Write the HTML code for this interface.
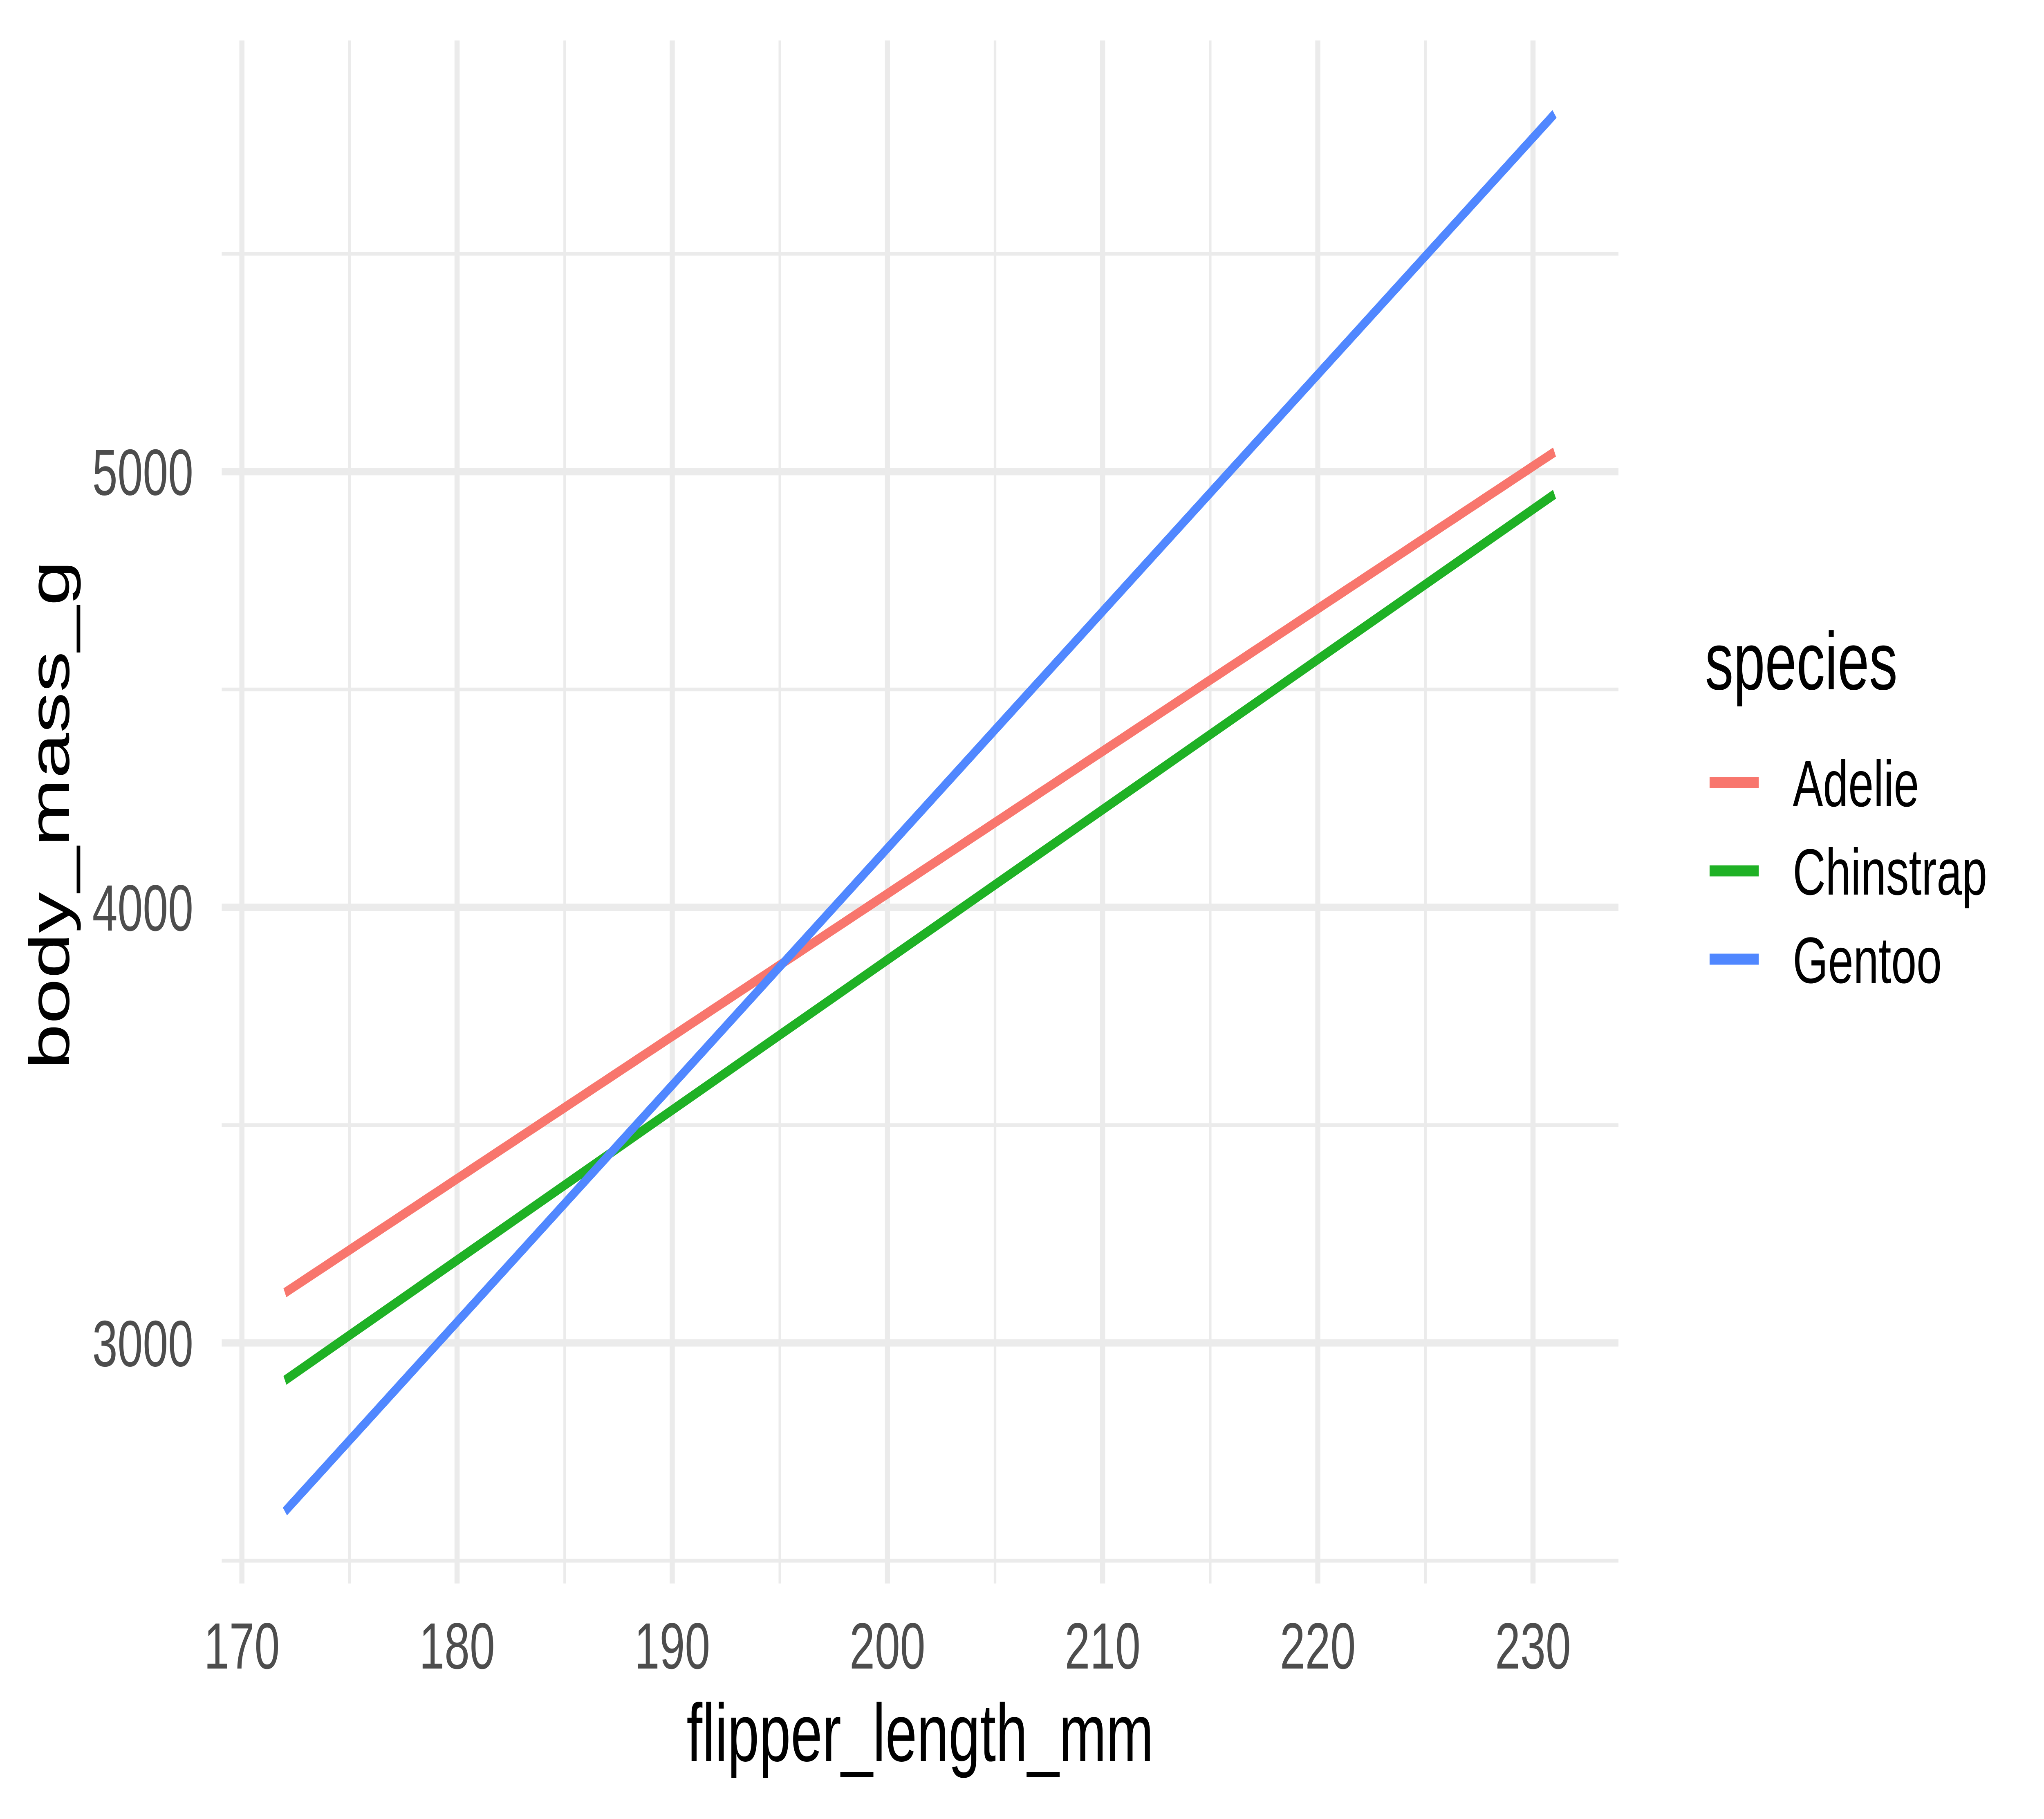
<!DOCTYPE html>
<html><head><meta charset="utf-8"><style>
html,body{margin:0;padding:0;background:#fff;overflow:hidden;width:100%;height:100%;}
svg{display:block;width:100vw;height:100vh;}
text{font-family:"Liberation Sans",Arial,sans-serif;}
</style></head><body>
<svg id="chart" viewBox="0 0 7200 4449" preserveAspectRatio="none" xmlns="http://www.w3.org/2000/svg">
<rect width="7200" height="4449" fill="#fff"/>
<g id="grid"></g>
<g id="ticks"></g>
<g id="lines"></g>
<text x="3241" y="4307" font-size="200" text-anchor="middle" fill="#000">flipper_length_mm</text>
<text transform="translate(243,1993) rotate(-90)" font-size="200" text-anchor="middle" fill="#000">body_mass_g</text>
<g id="legend">
<text x="6006" y="1686" font-size="200" fill="#000">species</text>
</g>
</svg>
<script>
const species = ["Adelie","Chinstrap","Gentoo"];
const colors = ["#F8766D","#1FB125","#5087FF"];
const xStart = [172,172,172];
const xEnd = [231,231,231];
const yStart = [3115,2914,2613];
const yEnd = [5045,4948,5821];
const xMajor = [170,180,190,200,210,220,230];
const xMinor = [175,185,195,205,215,225];
const yMajor = [3000,4000,5000];
const yMinor = [2500,3500,4500,5500];

const PL=781, PR=5701, PT=99, PB=3873;
function sx(v){ return 852 + (v-170)*75.8; }
function sy(v){ return 2219 - (v-4000)*1.0655; }
const NS="http://www.w3.org/2000/svg";
function mk(tag, attrs, parent){ const e=document.createElementNS(NS,tag); for(const k in attrs) e.setAttribute(k,attrs[k]); parent.appendChild(e); return e; }
const grid=document.getElementById('grid');
yMinor.forEach(v=>{ const l=mk('line',{x1:PL,x2:PR,y1:sy(v),y2:sy(v),stroke:'#ebebeb','stroke-width':9},grid);

 });
xMinor.forEach(v=>{ const l=mk('line',{x1:sx(v),x2:sx(v),y1:PT,y2:PB,stroke:'#ebebeb','stroke-width':9},grid);

 });
yMajor.forEach(v=>{ const l=mk('line',{x1:PL,x2:PR,y1:sy(v),y2:sy(v),stroke:'#ebebeb','stroke-width':18},grid);

 });
xMajor.forEach(v=>{ const l=mk('line',{x1:sx(v),x2:sx(v),y1:PT,y2:PB,stroke:'#ebebeb','stroke-width':18},grid);

 });
const ticks=document.getElementById('ticks');
yMajor.forEach(v=>{ const t=mk('text',{x:681,y:sy(v)+57,'font-size':160,'text-anchor':'end',fill:'#4d4d4d'},ticks); t.textContent=v;

 });
xMajor.forEach(v=>{ const t=mk('text',{x:sx(v),y:4081,'font-size':160,'text-anchor':'middle',fill:'#4d4d4d'},ticks); t.textContent=v;

 });
const lines=document.getElementById('lines');
const legend=document.getElementById('legend');
species.forEach((s,i)=>{
  const l=mk('line',{x1:sx(xStart[i]),y1:sy(yStart[i]),x2:sx(xEnd[i]),y2:sy(yEnd[i]),stroke:colors[i],'stroke-width':24},lines);
  
  
  const ky=1914+i*216;
  const k=mk('line',{x1:6022,x2:6195,y1:ky,y2:ky,stroke:colors[i],'stroke-width':27},legend);
  
  
  const t=mk('text',{x:6315,y:ky+58,'font-size':160,fill:'#000'},legend); t.textContent=s;
  
  
});
</script>
</body></html>
